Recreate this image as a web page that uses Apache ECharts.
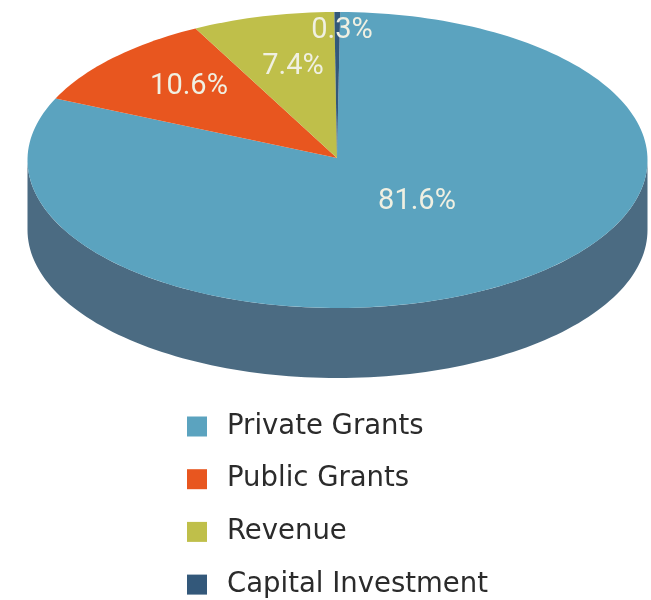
<!DOCTYPE html>
<html><head><meta charset="utf-8">
<script src="https://cdn.jsdelivr.net/npm/echarts@6/dist/echarts.min.js"></script>
<style>html,body{margin:0;background:#fff}#c{width:651px;height:600px}</style>
</head><body><div id="c"></div>
<script>
const categories = ["Private Grants", "Public Grants", "Revenue", "Capital Investment"];
const shares = [81.6, 10.6, 7.4, 0.3];
const shareLabels = ["81.6%", "10.6%", "7.4%", "0.3%"];

const colors = ["#5ba3bf", "#e8561f", "#bfbf4a", "#33587a"];
const wallColor = "#4b6b82";
const cx = 337.5, cy = 160, rx = 310, ry = 148, depth = 70, apexX = 337, apexY = 158;
const startDeg = 0.5;
const labelAt = [[417, 202], [189, 87], [293, 67], [342, 31]];

const total = shares.reduce((a, b) => a + b, 0);
const rad = d => d * Math.PI / 180;
const rim = (deg, dy) => [cx + rx * Math.sin(rad(deg)), cy + (dy || 0) - ry * Math.cos(rad(deg))];
const arc = (a, b, dy) => {
  const pts = [], n = Math.max(2, Math.ceil(Math.abs(b - a) / 1.5));
  for (let i = 0; i <= n; i++) pts.push(rim(a + (b - a) * i / n, dy));
  return pts;
};

let acc = 0;
const series = categories.map((name, i) => {
  const from = startDeg + acc / total * 360;
  acc += shares[i];
  const to = startDeg + acc / total * 360;
  return {
    type: "custom", name, coordinateSystem: "none", silent: true,
    itemStyle: { color: colors[i] },
    data: [[from, to, shares[i]]],
    z: 2,
    renderItem(params, api) {
      const a = api.value(0), b = api.value(1), children = [];
      const wa = Math.max(a, 90), wb = Math.min(b, 270);
      if (wb > wa) {
        children.push({ type: "polygon", z2: 1,
          shape: { points: arc(wa, wb, 0).concat(arc(wb, wa, depth)) },
          style: { fill: wallColor } });
      }
      children.push({ type: "polygon", z2: 2,
        shape: { points: [[apexX, apexY]].concat(arc(a, b, 0)) },
        style: { fill: api.visual("color") } });
      children.push({ type: "text", z2: 50,
        style: { x: labelAt[i][0], y: labelAt[i][1], text: shareLabels[i], fill: "#f0f0e2",
          font: "400 29px Roboto", align: "center", verticalAlign: "middle" } });
      return { type: "group", children };
    }
  };
});

const chart = echarts.init(document.getElementById("c"), null, { renderer: "canvas" });
chart.setOption({
  animation: false,
  backgroundColor: "#fff",
  legend: {
    orient: "vertical", left: 187, top: 412, height: 188, padding: 0,
    icon: "rect", itemWidth: 20, itemHeight: 20, itemGap: 23.7,
    data: categories, selectedMode: false,
    textStyle: { color: "#2b2b2b", fontFamily: "DejaVu Sans", fontSize: 27.5, padding: [0, 0, 0, 15], lineHeight: 29 }
  },
  series
});
</script></body></html>
